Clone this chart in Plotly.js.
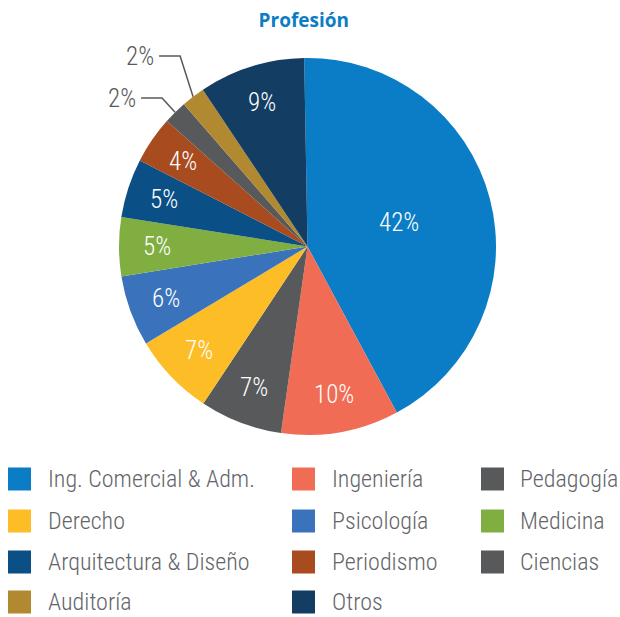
<!DOCTYPE html>
<html>
<head>
<meta charset="utf-8">
<script src="https://cdn.plot.ly/plotly-3.0.1.min.js"></script>
<style>html,body{margin:0;padding:0;background:#fff;}#chart{width:620px;height:617px;}</style>
</head>
<body>
<div id="chart"></div>
<script>
// ---- data ----
const categories = ["Ing. Comercial & Adm.", "Ingeniería", "Pedagogía", "Derecho", "Psicología", "Medicina", "Arquitectura & Diseño", "Periodismo", "Ciencias", "Auditoría", "Otros"];
const values = [42, 10, 7, 7, 6, 5, 5, 4, 2, 2, 9];
const colors = ["#0b7dc6", "#f06c55", "#58595b", "#fdbd27", "#3a73bb", "#80ae41", "#0b4f87", "#a84b1f", "#58595b", "#b18930", "#133d63"];
const titleText = "Profesión";

// ---- layout constants ----
const W = 620, H = 617;
const cx = 307.5, cy = 246.5, R = 188.5;
const ROT = -1;                       // degrees, clockwise positive
const FONT = "'Roboto Condensed', 'Roboto', sans-serif";
const FS = 25, LFS = 24;
const textGray = "#58595b";
const outsideIdx = [8, 9];             // slices labelled outside
const outsideLabelY = {8: 98, 9: 56};  // px
const px = x => x / W, py = y => 1 - y / H;

const trace = {
  type: "pie",
  labels: categories,
  values: values,
  marker: {colors: colors, line: {width: 0}},
  sort: false,
  direction: "clockwise",
  rotation: ROT,
  textinfo: "none",
  hoverinfo: "label+value",
  showlegend: false,
  domain: {x: [px(cx - R), px(cx + R)], y: [py(cy + R), py(cy - R)]}
};

const shapes = [];
const annotations = [];

// slice labels, positioned from the data (mid-angle of each slice)
const total = values.reduce((a, b) => a + b, 0);
let cum = 0;
values.forEach((v, i) => {
  const mid = (cum + v / 2) / total;
  cum += v;
  const ang = mid * 2 * Math.PI + ROT * Math.PI / 180;
  const s = Math.sin(ang), c = Math.cos(ang);
  if (outsideIdx.includes(i)) {
    const ex = cx + R * s, ey = cy - R * c;
    const elx = ex - 13, ely = outsideLabelY[i];
    const hx = elx - 21;
    shapes.push({
      type: "path", xref: "paper", yref: "paper",
      path: `M${px(ex)},${py(ey)} L${px(elx)},${py(ely)} L${px(hx)},${py(ely)}`,
      line: {color: textGray, width: 1.5}
    });
    annotations.push({
      xref: "paper", yref: "paper", x: px(hx - 3), y: py(ely),
      xanchor: "right", yanchor: "middle", showarrow: false,
      text: v + "%", font: {family: FONT, size: FS, color: textGray, weight: 300}
    });
  } else {
    const rf = (v / total > 0.25) ? 0.5 : 0.8;
    annotations.push({
      xref: "paper", yref: "paper", x: px(cx + rf * R * s), y: py(cy - rf * R * c),
      xanchor: "center", yanchor: "middle", showarrow: false,
      text: v + "%", font: {family: FONT, size: FS, color: "#ffffff", weight: 300}
    });
  }
});

// legend grid built from categories / colors
const colSq = [8, 292, 481], colTx = [47, 331, 519];
const rowY = [479, 521, 562, 602];
const SQ = 23;
categories.forEach((c, i) => {
  const col = i % 3, row = Math.floor(i / 3);
  const x0 = colSq[col], yc = rowY[row];
  shapes.push({
    type: "rect", xref: "paper", yref: "paper",
    x0: px(x0), x1: px(x0 + SQ), y0: py(yc + SQ / 2), y1: py(yc - SQ / 2),
    fillcolor: colors[i], line: {width: 0}
  });
  annotations.push({
    xref: "paper", yref: "paper", x: px(colTx[col]), y: py(yc),
    xanchor: "left", yanchor: "middle", showarrow: false, borderpad: 0,
    text: c, font: {family: FONT, size: LFS, color: "#646569", weight: 300}
  });
});

const layout = {
  width: W, height: H,
  margin: {l: 0, r: 0, t: 0, b: 0},
  paper_bgcolor: "#ffffff",
  title: {
    text: "<b>" + titleText + "</b>",
    x: 0.49, xanchor: "center", y: py(20), yanchor: "middle",
    font: {family: "'Open Sans', 'Noto Sans', sans-serif", size: 19, color: "#0b7dc6"}
  },
  showlegend: false,
  shapes: shapes,
  annotations: annotations
};

Plotly.newPlot("chart", [trace], layout, {displayModeBar: false, staticPlot: true});
</script>
</body>
</html>
